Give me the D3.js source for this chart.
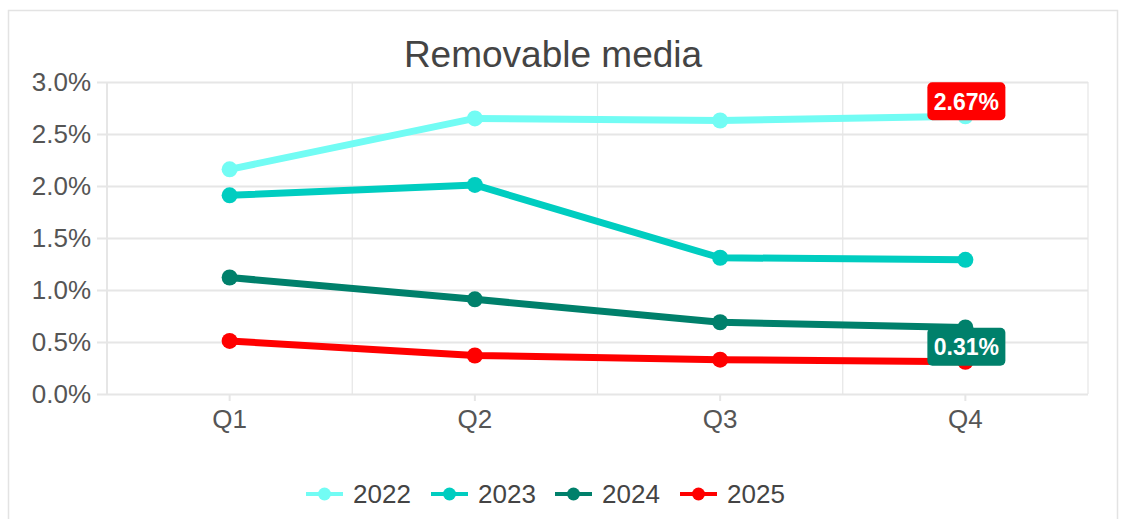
<!DOCTYPE html>
<html>
<head>
<meta charset="utf-8">
<script src="https://cdn.jsdelivr.net/npm/d3@7"></script>
<style>
  body { margin: 0; background: #fff; font-family: "Liberation Sans", Arial, sans-serif; }
  .y-axis text, .x-axis text { fill: #555; font-size: 26px; font-family: "Liberation Sans", Arial, sans-serif; }
  .y-axis path, .x-axis path { display: none; }
  .y-axis line, .x-axis line { stroke: #e6e6e6; stroke-width: 2; }
</style>
</head>
<body>
<div id="chart"></div>
<script>
const height = 519,
    width = 1122,
    margin = ({ top: 82, right: 34, bottom: 125, left: 107 });

// chart data
const quarters = ["Q1", "Q2", "Q3", "Q4"];
const years = ["2022", "2023", "2024", "2025"];
const colors = ["#72fcf4", "#00cdc0", "#00806b", "#ff0000"];
const v2022 = [2.16, 2.65, 2.63, 2.67];
const v2023 = [1.91, 2.01, 1.31, 1.29];
const v2024 = [1.12, 0.91, 0.69, 0.64];
const v2025 = [0.51, 0.37, 0.33, 0.31];
const yTicks = [0, 0.5, 1.0, 1.5, 2.0, 2.5, 3.0];

const series = years.map((y, i) => ({
    name: y,
    color: colors[i],
    values: [v2022, v2023, v2024, v2025][i]
}));

const svg = d3.select("#chart")
    .append("svg")
    .attr("width", width)
    .attr("height", height);

// outer frame
svg.append("rect")
    .attr("x", 8.5).attr("y", 10.5)
    .attr("width", 1109).attr("height", 520)
    .attr("fill", "none")
    .attr("stroke", "#e3e3e3")
    .attr("stroke-width", 1.5);

svg.append("text")
    .attr("x", 553)
    .attr("y", 67)
    .attr("text-anchor", "middle")
    .attr("fill", "#444")
    .style("font-size", "37px")
    .text("Removable media");

let x = d3.scaleBand()
    .domain(quarters)
    .range([margin.left, width - margin.right]);

let y = d3.scaleLinear()
    .domain([0, 3])
    .range([height - margin.bottom, margin.top]);

// horizontal grid + y labels
svg.append("g")
    .attr("class", "y-axis")
    .attr("transform", `translate(${margin.left},0)`)
    .call(d3.axisLeft(y).tickValues(yTicks)
        .tickFormat(d => d.toFixed(1) + "%")
        .tickSize(-(width - margin.right - margin.left))
        .tickPadding(16))
    .call(g => g.selectAll(".tick line").attr("x1", -10));

// vertical band separators
svg.append("g")
    .selectAll("line")
    .data(quarters.concat(["end"]))
    .join("line")
    .attr("x1", (d, i) => margin.left + i * x.bandwidth())
    .attr("x2", (d, i) => margin.left + i * x.bandwidth())
    .attr("y1", margin.top)
    .attr("y2", height - margin.bottom)
    .attr("stroke", "#e6e6e6")
    .attr("stroke-width", (d, i) => i === 0 ? 2 : 1.2);

svg.append("g")
    .attr("class", "x-axis")
    .attr("transform", `translate(0,${height - margin.bottom})`)
    .call(d3.axisBottom(x).tickSizeOuter(0).tickSize(7).tickPadding(9));

let line = d3.line()
    .x((d, i) => x(quarters[i]) + x.bandwidth() / 2)
    .y(d => y(d));

const groups = svg.append("g")
    .selectAll("g")
    .data(series)
    .join("g");

groups.append("path")
    .attr("d", d => line(d.values))
    .attr("fill", "none")
    .attr("stroke", d => d.color)
    .attr("stroke-width", 7)
    .attr("stroke-linejoin", "round");

groups.selectAll("circle")
    .data(d => d.values.map(v => ({ v, color: d.color })))
    .join("circle")
    .attr("cx", (d, i) => x(quarters[i]) + x.bandwidth() / 2)
    .attr("cy", d => y(d.v))
    .attr("r", 8)
    .attr("fill", d => d.color);

// end-point value labels for 2022 and 2025
const labels = [
    { value: v2022[3], fill: "#ff0000" },
    { value: v2025[3], fill: "#00806b" }
];
const lab = svg.append("g")
    .selectAll("g")
    .data(labels)
    .join("g")
    .attr("transform", d => `translate(${x("Q4") + x.bandwidth() / 2 + 1},${y(d.value) - 15})`);

lab.append("rect")
    .attr("x", -39).attr("y", -19)
    .attr("width", 78).attr("height", 38)
    .attr("rx", 5)
    .attr("fill", d => d.fill);

lab.append("text")
    .attr("text-anchor", "middle")
    .attr("dy", "0.36em")
    .attr("fill", "#fff")
    .style("font-size", "23px")
    .style("font-weight", "bold")
    .text(d => d.value.toFixed(2) + "%");

// legend
const legendX = [306, 431, 555, 680];
const legend = svg.append("g")
    .selectAll("g")
    .data(series)
    .join("g")
    .attr("transform", (d, i) => `translate(${legendX[i]},494)`);

legend.append("line")
    .attr("x1", 0).attr("x2", 37)
    .attr("stroke", d => d.color)
    .attr("stroke-width", 4);

legend.append("circle")
    .attr("cx", 18.5).attr("r", 6.5)
    .attr("fill", d => d.color);

legend.append("text")
    .attr("x", 47)
    .attr("dy", "0.36em")
    .attr("fill", "#444")
    .style("font-size", "26px")
    .text(d => d.name);
</script>
</body>
</html>
